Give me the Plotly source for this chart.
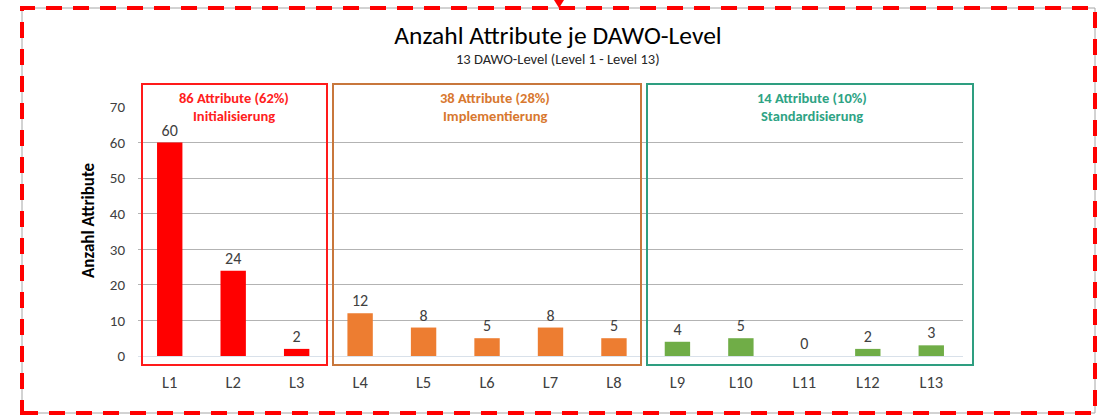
import plotly.graph_objects as go

# ---- data ----
levels = ["L1", "L2", "L3", "L4", "L5", "L6", "L7", "L8", "L9", "L10", "L11", "L12", "L13"]
counts = [60, 24, 2, 12, 8, 5, 8, 5, 4, 5, 0, 2, 3]
phase_of_level = ["Initialisierung"] * 3 + ["Implementierung"] * 5 + ["Standardisierung"] * 5
phase_names = ["Initialisierung", "Implementierung", "Standardisierung"]
phase_headers = ["86 Attribute (62%)", "38 Attribute (28%)", "14 Attribute (10%)"]
phase_bar_colors = ["#FF0000", "#ED7D31", "#70AD47"]
phase_box_colors = ["#FF1A1A", "#C8773C", "#2E9E80"]
phase_text_colors = ["#FF2020", "#D8782F", "#2EA384"]
y_ticks = [0, 10, 20, 30, 40, 50, 60, 70]

FONT = "Carlito, Lato, 'Open Sans', sans-serif"
W, H = 1107, 415
L, R, T, B = 138, 144, 107, 59
PW, PH = W - L - R, H - T - B


def px_x(px):
    return (px - L) / PW


def px_y(py):
    return (H - B - py) / PH


bar_colors = [phase_bar_colors[phase_names.index(p)] for p in phase_of_level]

fig = go.Figure(
    go.Bar(
        x=levels,
        y=counts,
        marker=dict(color=bar_colors, line=dict(width=0)),
        width=0.4,
        text=counts,
        textposition="outside",
        textfont=dict(family=FONT, size=16, color="#404040"),
        cliponaxis=False,
        hoverinfo="skip",
    )
)

shapes = []
annotations = []

# group boxes (pixel estimates converted to paper coords)
box_px = [(142, 327), (333, 641), (647, 973)]
label_cx = [234, 495, 812]
for i, (x0, x1) in enumerate(box_px):
    shapes.append(dict(type="rect", xref="paper", yref="paper",
                       x0=px_x(x0), x1=px_x(x1), y0=px_y(365), y1=px_y(84),
                       line=dict(color=phase_box_colors[i], width=2), layer="above"))
    annotations.append(dict(xref="paper", yref="paper", x=px_x(label_cx[i]), y=px_y(98),
                            text="<b>" + phase_headers[i] + "</b>", showarrow=False,
                            font=dict(family=FONT, size=14.5, color=phase_text_colors[i]),
                            xanchor="center", yanchor="middle"))
    annotations.append(dict(xref="paper", yref="paper", x=px_x(label_cx[i]), y=px_y(116),
                            text="<b>" + phase_names[i] + "</b>", showarrow=False,
                            font=dict(family=FONT, size=14.5, color=phase_text_colors[i]),
                            xanchor="center", yanchor="middle"))

# outer frame: thin grey + red dashed
shapes.append(dict(type="rect", xref="paper", yref="paper",
                   x0=px_x(22), x1=px_x(1095), y0=px_y(413), y1=px_y(8),
                   line=dict(color="#A6A6A6", width=1), layer="below"))
shapes.append(dict(type="rect", xref="paper", yref="paper",
                   x0=px_x(22), x1=px_x(1095), y0=px_y(413), y1=px_y(8),
                   line=dict(color="#FF0000", width=4, dash="16px,11px"), layer="above"))
# small selection marker at top
shapes.append(dict(type="path", xref="paper", yref="paper",
                   path=f"M {px_x(554)} {px_y(0)} L {px_x(564)} {px_y(0)} L {px_x(559)} {px_y(8)} Z",
                   fillcolor="#FF0000", line=dict(width=0)))

# subtitle
annotations.append(dict(xref="paper", yref="paper", x=px_x(558), y=px_y(59),
                        text="13 DAWO-Level (Level 1 - Level 13)", showarrow=False,
                        font=dict(family=FONT, size=14.5, color="#262626"),
                        xanchor="center", yanchor="middle"))
# y axis title
annotations.append(dict(xref="paper", yref="paper", x=px_x(88), y=px_y(220),
                        text="<b>Anzahl Attribute</b>", showarrow=False, textangle=-90,
                        font=dict(family=FONT, size=17, color="#000000"),
                        xanchor="center", yanchor="middle"))

fig.update_layout(
    width=W, height=H,
    margin=dict(l=L, r=R, t=T, b=B),
    paper_bgcolor="white", plot_bgcolor="white",
    showlegend=False,
    title=dict(text="Anzahl Attribute je DAWO-Level", x=558 / W, xanchor="center",
               y=1 - 35 / H, yanchor="middle",
               font=dict(family=FONT, size=25.5, color="#000000")),
    shapes=shapes,
    annotations=annotations,
    bargap=0.6,
)
fig.update_xaxes(type="category", range=[-0.5, 12.5], showgrid=False, showline=False,
                 zeroline=False, ticks="", ticklabelstandoff=14,
                 tickfont=dict(family=FONT, size=16.5, color="#404040"))
fig.update_yaxes(range=[0, 70], tickvals=y_ticks, showgrid=True, gridcolor="#B3B3B3",
                 gridwidth=1, zeroline=True, zerolinecolor="#D9E1EA", zerolinewidth=1,
                 showline=False, ticks="", ticklabelstandoff=12,
                 tickfont=dict(family=FONT, size=15, color="#404040"))

fig.write_html("out.html", config={"displayModeBar": False},
               post_script="document.body.style.margin='0';")
